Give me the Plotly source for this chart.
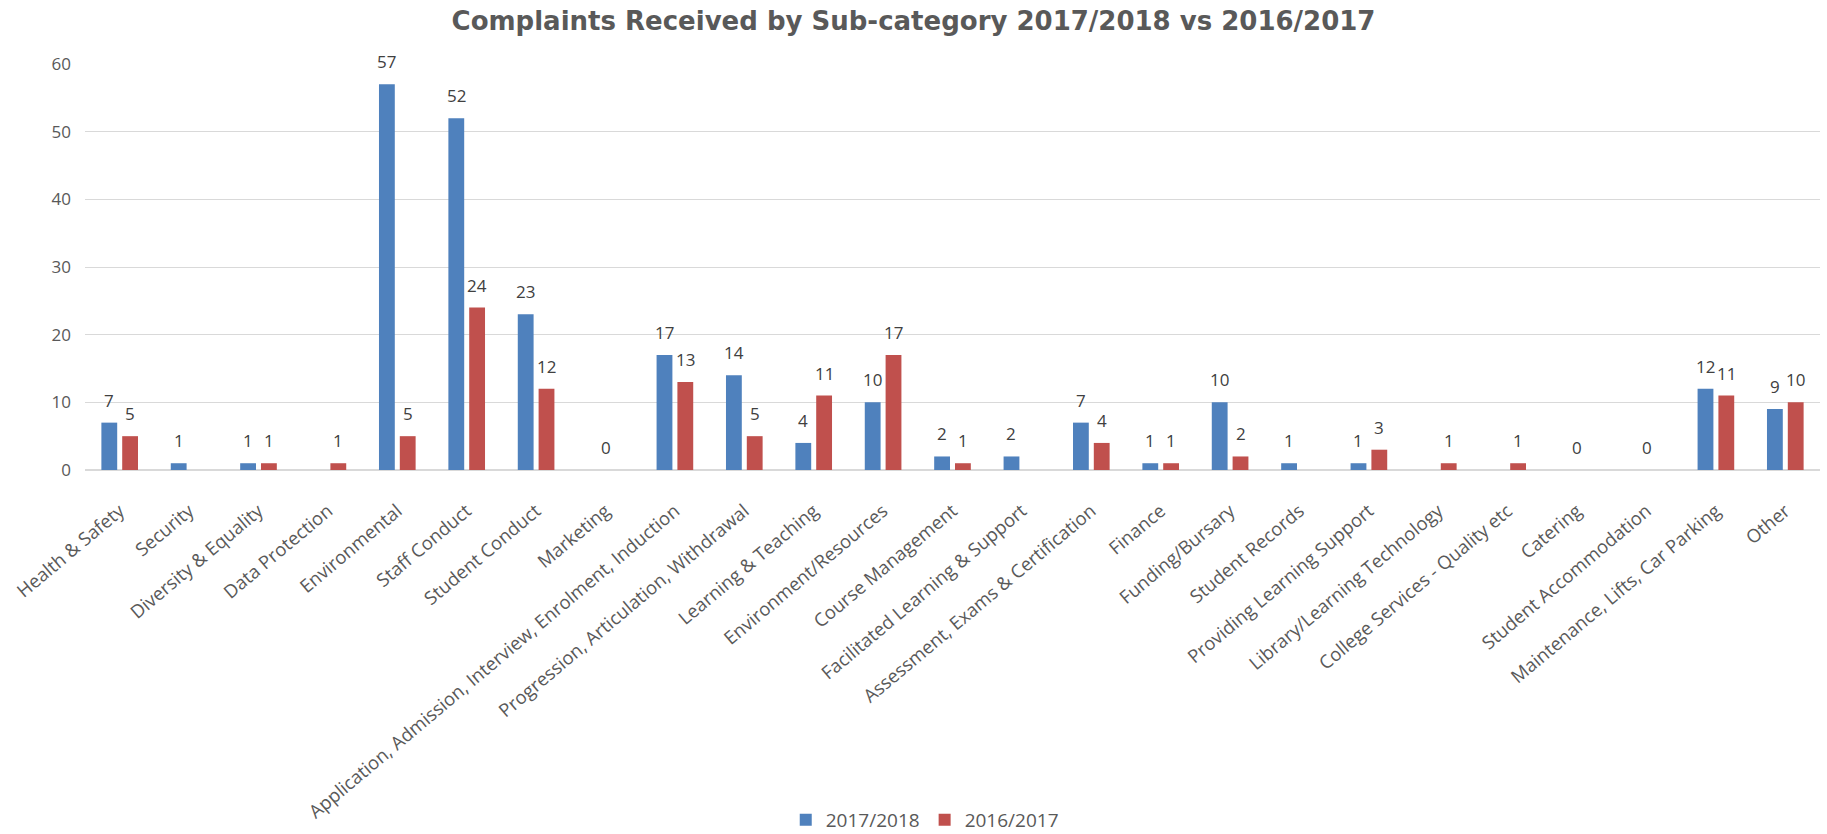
import plotly.graph_objects as go

categories = [
    "Health & Safety", "Security", "Diversity & Equality", "Data Protection",
    "Environmental", "Staff Conduct", "Student Conduct", "Marketing",
    "Application, Admission, Interview, Enrolment, Induction",
    "Progression, Articulation, Withdrawal", "Learning & Teaching",
    "Environment/Resources", "Course Management",
    "Facilitated Learning & Support", "Assessment, Exams & Certification",
    "Finance", "Funding/Bursary", "Student Records",
    "Providing Learning Support", "Library/Learning Technology",
    "College Services - Quality etc", "Catering", "Student Accommodation",
    "Maintenance, Lifts, Car Parking", "Other",
]
y2017_2018 = [7, 1, 1, None, 57, 52, 23, 0, 17, 14, 4, 10, 2, 2, 7, 1, 10, 1, 1,
              None, None, 0, 0, 12, 9]
y2016_2017 = [5, None, 1, 1, 5, 24, 12, None, 13, 5, 11, 17, 1, None, 4, 1, 2,
              None, 3, 1, 1, None, None, 11, 10]

BLUE = "#4F81BD"
RED = "#C0504D"
TXT = "#595959"
FONT = "Open Sans"

fig = go.Figure()
fig.add_trace(go.Bar(x=categories, y=y2017_2018, name="2017/2018",
                     marker=dict(color=BLUE, line=dict(width=0))))
fig.add_trace(go.Bar(x=categories, y=y2016_2017, name="2016/2017",
                     marker=dict(color=RED, line=dict(width=0))))

# data labels
for vals, shift in ((y2017_2018, -10.5), (y2016_2017, 10.5)):
    for c, v in zip(categories, vals):
        if v is None:
            continue
        fig.add_annotation(x=c, y=v, text=str(v), showarrow=False,
                           xshift=(0 if v == 0 else shift), yshift=9,
                           yanchor="bottom",
                           font=dict(family=FONT, size=17, color="#404040"))

fig.update_layout(
    width=1827, height=834,
    margin=dict(l=85, r=7, t=64, b=364, autoexpand=False),
    paper_bgcolor="white", plot_bgcolor="white",
    barmode="group", bargap=0.4, bargroupgap=0.24,
    title=dict(text="<b>Complaints Received by Sub-category 2017/2018 vs 2016/2017</b>",
               x=0.5, xanchor="center", y=0.975, yanchor="middle",
               font=dict(family="DejaVu Sans", size=26, color=TXT)),
    font=dict(family=FONT, size=16, color=TXT),
    legend=dict(orientation="h", x=0.484, xanchor="center", y=-0.862,
                yanchor="middle", font=dict(family=FONT, size=19, color=TXT),
                itemwidth=30, itemsizing="constant"),
    showlegend=True,
)
fig.update_xaxes(tickangle=-40, tickfont=dict(family=FONT, size=18.5, color=TXT),
                 showline=True, linecolor="#D9D9D9", linewidth=1,
                 ticks="", automargin=False, ticklabelstandoff=22)
fig.update_yaxes(range=[0, 60], dtick=10, showgrid=True, gridcolor="#D9D9D9",
                 gridwidth=1, zeroline=True, zerolinecolor="#D9D9D9",
                 tickfont=dict(family=FONT, size=17, color=TXT),
                 ticks="", automargin=False, ticklabelstandoff=13)

fig.write_html("out.html",
               config={"displayModeBar": False},
               post_script="document.body.style.margin='0';"
                           "document.body.style.overflow='hidden';")
